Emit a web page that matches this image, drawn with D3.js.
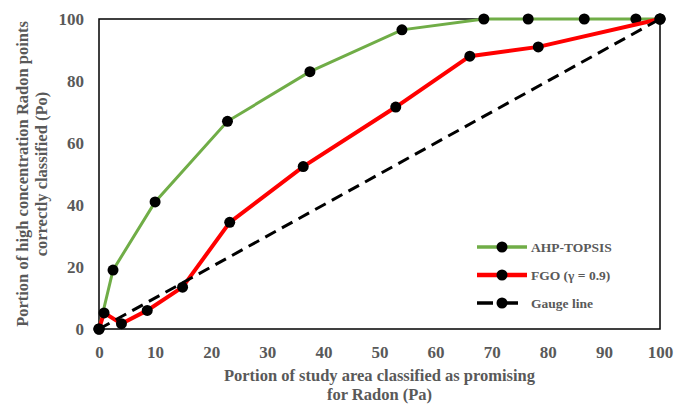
<!DOCTYPE html>
<html>
<head>
<meta charset="utf-8">
<script src="https://cdn.jsdelivr.net/npm/d3@7"></script>
<style>
    body { margin: 0; background: #fff; }
    .tick text, .title, .legend text {
        font-family: "Liberation Serif", "Times New Roman", serif;
        font-weight: bold;
        fill: #595959;
    }
</style>
</head>
<body>
<div id="chart"></div>
<script>
// AHP-TOPSIS
const ahpX = [0, 2.5, 10, 22.9, 37.6, 54, 68.6, 76.5, 86.5, 95.7, 100];
const ahpY = [0, 19, 41, 67, 83, 96.5, 100, 100, 100, 100, 100];
// FGO (gamma = 0.9)
const fgoX = [0, 0.9, 4, 8.6, 14.9, 23.3, 36.4, 52.9, 66.1, 78.3, 100];
const fgoY = [0, 5.2, 1.7, 6, 13.5, 34.4, 52.4, 71.6, 88, 91, 100];
// gauge line
const gaugeX = [0, 100];
const gaugeY = [0, 100];

const xTicks = [0, 10, 20, 30, 40, 50, 60, 70, 80, 90, 100];
const yTicks = [0, 20, 40, 60, 80, 100];

const width = 688,
    height = 410,
    margin = { top: 19, right: 28, bottom: 81, left: 99 };
const w = width - margin.left - margin.right,
    h = height - margin.top - margin.bottom;

const svg = d3.select("#chart")
    .append("svg")
    .attr("width", width)
    .attr("height", height);

const g = svg.append("g")
    .attr("transform", `translate(${margin.left},${margin.top})`);

const x = d3.scaleLinear().domain([0, 100]).range([0, w]);
const y = d3.scaleLinear().domain([0, 100]).range([h, 0]);

// axes (labels only, no tick marks)
const xAxis = g.append("g")
    .attr("transform", `translate(0,${h})`)
    .call(d3.axisBottom(x).tickValues(xTicks).tickSize(0).tickPadding(17));
xAxis.select(".domain").remove();
xAxis.selectAll("text").style("font-size", "17px");

const yAxis = g.append("g")
    .call(d3.axisLeft(y).tickValues(yTicks).tickSize(0).tickPadding(15));
yAxis.select(".domain").remove();
yAxis.selectAll("text").style("font-size", "17px");

// plot box
g.append("rect")
    .attr("width", w)
    .attr("height", h)
    .attr("fill", "none")
    .attr("stroke", "#000")
    .attr("stroke-width", 1.5);

const series = [
    { name: "AHP-TOPSIS", xs: ahpX, ys: ahpY, color: "#70ad47", width: 3, dash: null },
    { name: "FGO (\u03b3 = 0.9)", xs: fgoX, ys: fgoY, color: "#ff0000", width: 4, dash: null },
    { name: "Gauge line", xs: gaugeX, ys: gaugeY, color: "#000", width: 3, dash: "12,7" },
];

const line = d3.line()
    .x((d) => x(d[0]))
    .y((d) => y(d[1]));

series.forEach((s) => {
    const pts = s.xs.map((v, i) => [v, s.ys[i]]);
    g.append("path")
        .datum(pts)
        .attr("d", line)
        .attr("fill", "none")
        .attr("stroke", s.color)
        .attr("stroke-width", s.width)
        .attr("stroke-dasharray", s.dash);
    g.selectAll(null)
        .data(pts)
        .enter()
        .append("circle")
        .attr("cx", (d) => x(d[0]))
        .attr("cy", (d) => y(d[1]))
        .attr("r", 5.5)
        .attr("fill", "#000");
});

// legend
const legend = svg.append("g").attr("class", "legend")
    .attr("transform", "translate(477,247)");
series.forEach((s, i) => {
    const row = legend.append("g").attr("transform", `translate(0,${i * 28})`);
    row.append("line")
        .attr("x1", 0).attr("x2", 50)
        .attr("stroke", s.color)
        .attr("stroke-width", s.width + 0.5)
        .attr("stroke-dasharray", s.dash ? "16,9" : null);
    row.append("circle").attr("cx", 25).attr("r", 5.5).attr("fill", "#000");
    row.append("text")
        .attr("x", 54)
        .attr("dy", "0.35em")
        .style("font-size", "13.5px")
        .text(s.name);
});

// axis titles (two separate lines)
const xTitleLines = ["Portion of study area classified as promising", "for Radon (Pa)"];
svg.selectAll(".xtitle")
    .data(xTitleLines)
    .enter()
    .append("text")
    .attr("class", "title xtitle")
    .attr("text-anchor", "middle")
    .attr("x", margin.left + w / 2)
    .attr("y", (d, i) => 381 + i * 18.5)
    .style("font-size", "16.5px")
    .text((d) => d);

const yTitleLines = ["Portion of high concentration Radon points", "correctly classified (Po)"];
const cy = margin.top + h / 2;
svg.selectAll(".ytitle")
    .data(yTitleLines)
    .enter()
    .append("text")
    .attr("class", "title ytitle")
    .attr("text-anchor", "middle")
    .attr("transform", (d, i) => `translate(${28 + i * 19},${cy}) rotate(-90)`)
    .style("font-size", "16.5px")
    .text((d) => d);
</script>
</body>
</html>
